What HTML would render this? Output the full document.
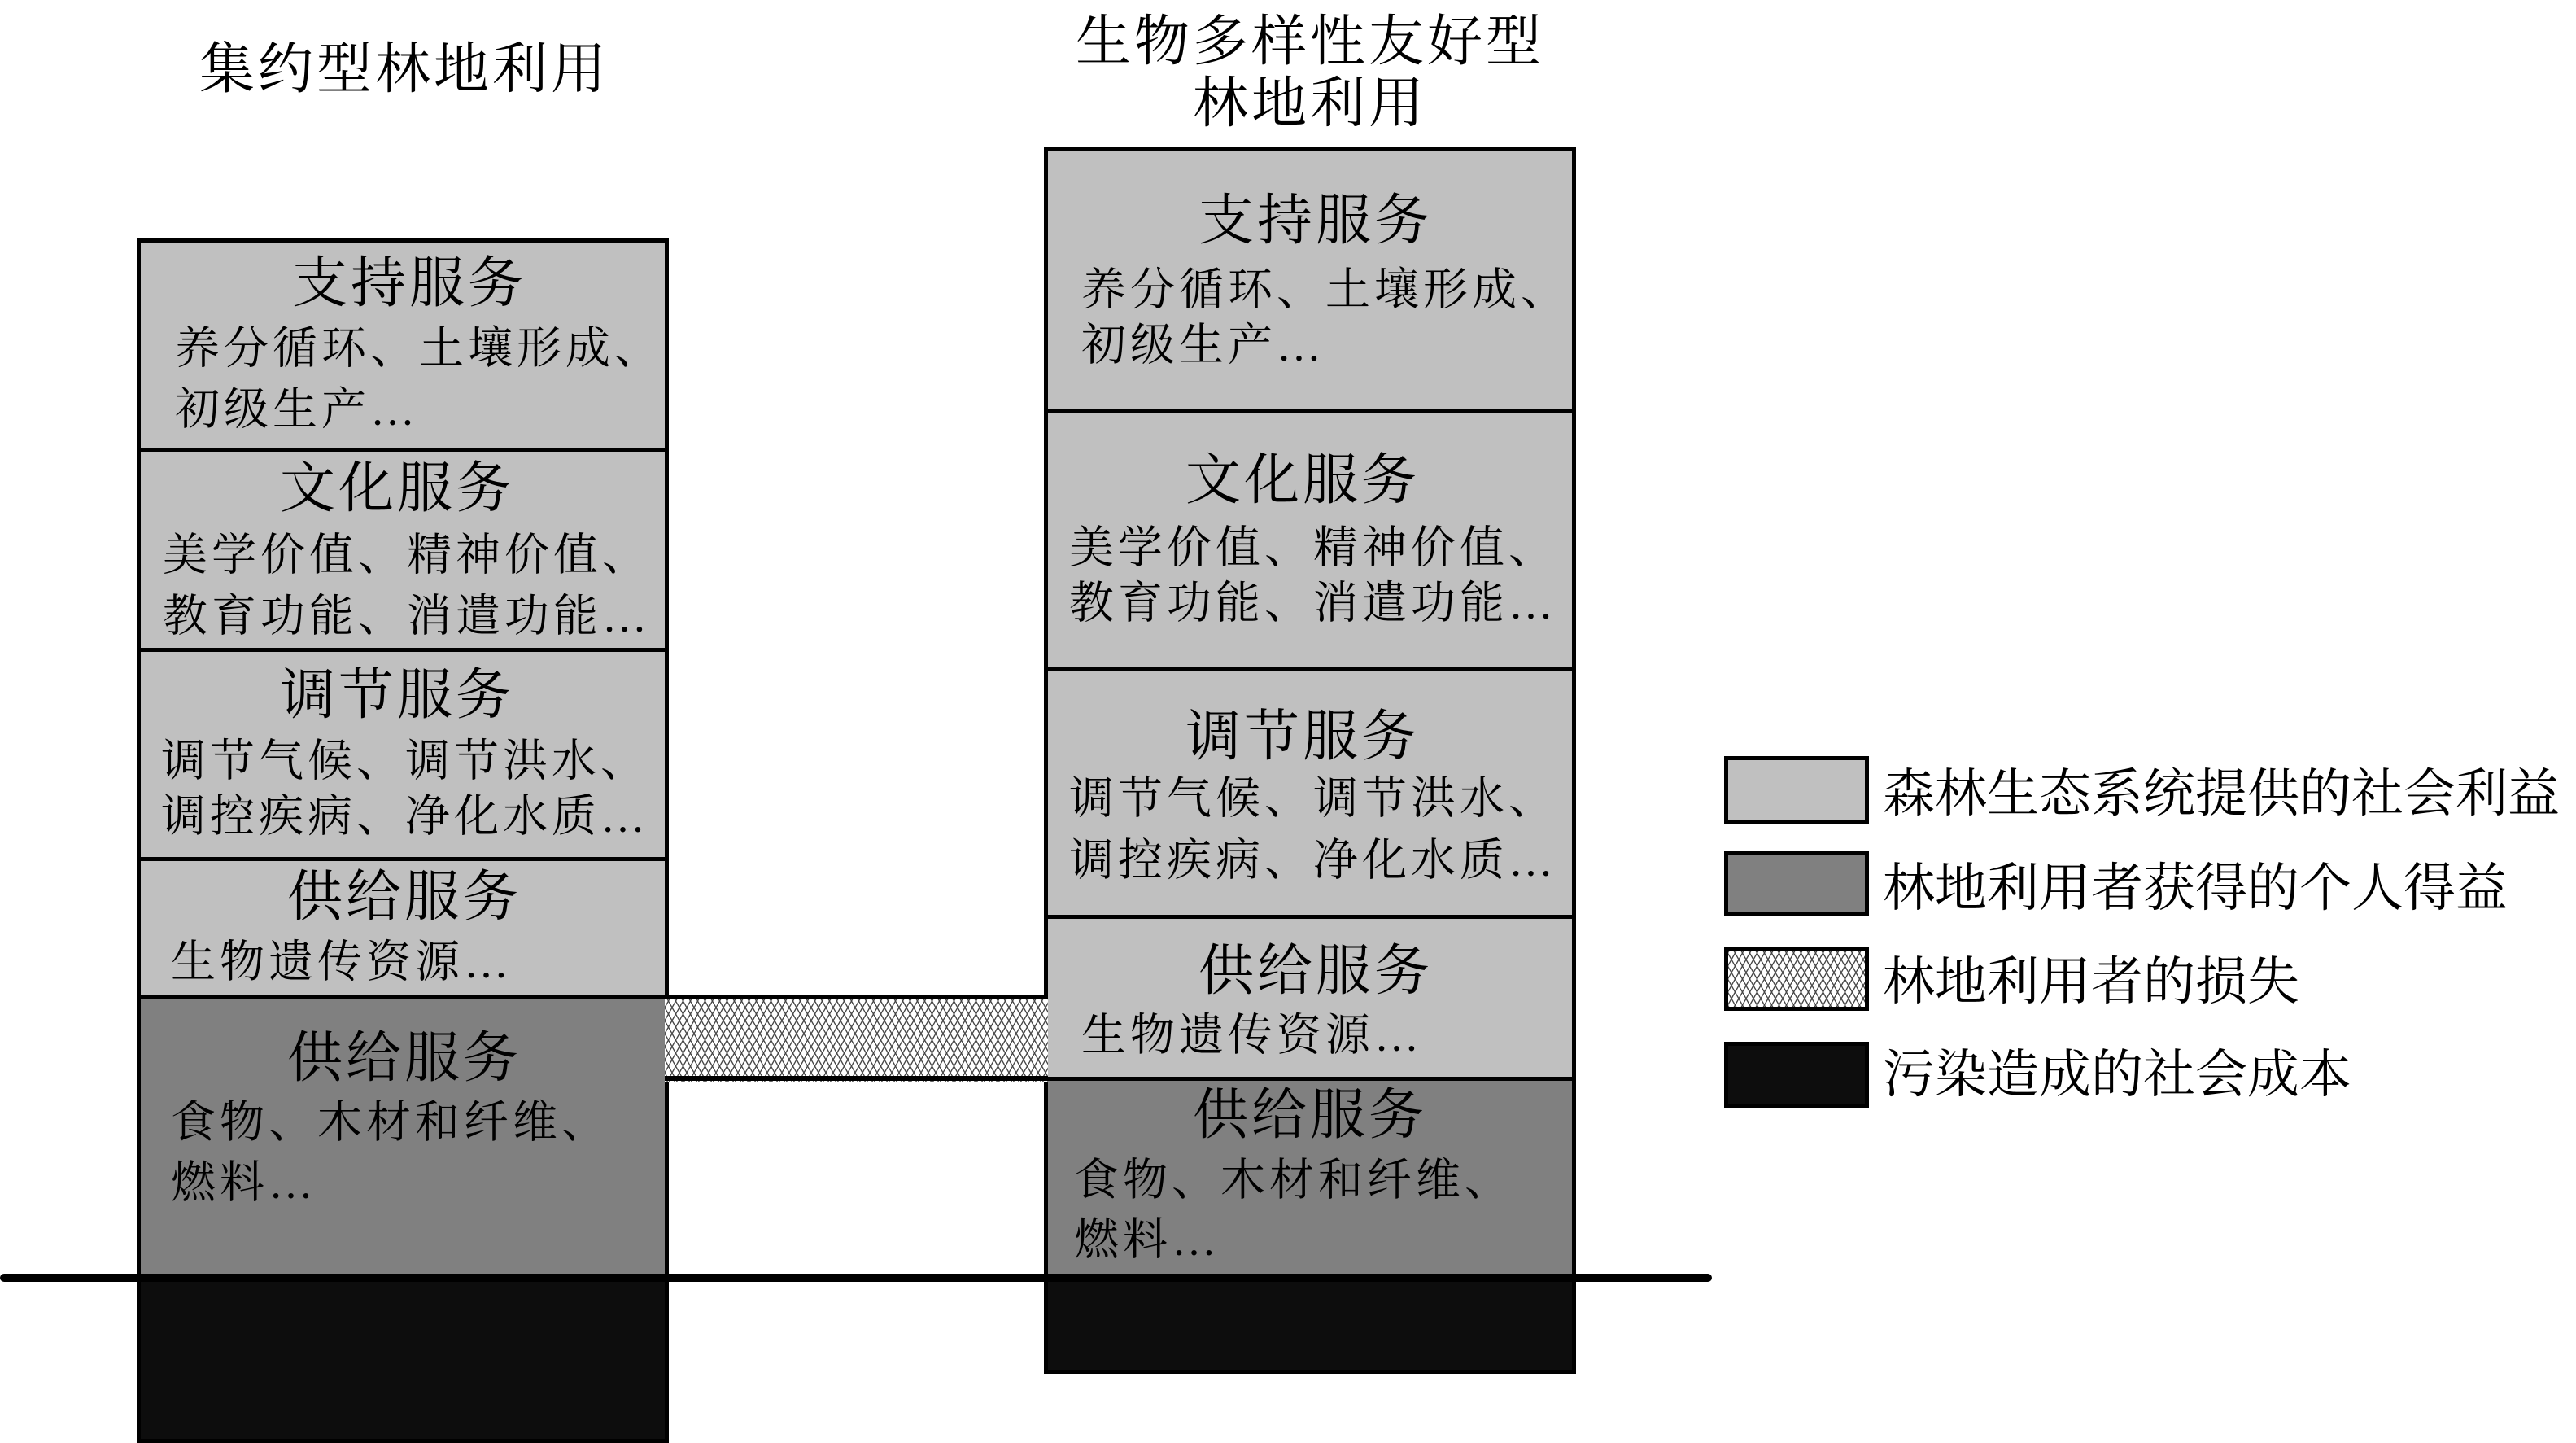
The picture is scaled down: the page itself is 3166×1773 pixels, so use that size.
<!DOCTYPE html>
<html><head><meta charset="utf-8"><style>
body{margin:0;width:3166px;height:1773px;background:#fff;position:relative;overflow:hidden;font-family:"Liberation Serif","Noto Serif CJK SC","Noto Serif CJK JP",serif;color:#000}
.b{position:absolute;box-sizing:border-box;border:5px solid #000}
.l{background:#c0c0c0}.d{background:#808080}.k{background:#0d0d0d}
.t{position:absolute;white-space:nowrap;line-height:1}
.h{font-size:68px;letter-spacing:4px;transform:translate(-50%,-50%)}
.s{font-size:55px;letter-spacing:5px;transform:translateY(-50%)}
.g{font-size:64px;transform:translateY(-50%)}
</style></head><body>
<div class="t h" style="left:497px;top:85px">集约型林地利用</div>
<div class="t h" style="left:1610px;top:51px">生物多样性友好型</div>
<div class="t h" style="left:1610px;top:127px">林地利用</div>

<div class="b l" style="left:168px;top:293px;width:654px;height:263px"></div>
<div class="b l" style="left:168px;top:550px;width:654px;height:252px"></div>
<div class="b l" style="left:168px;top:796px;width:654px;height:263px"></div>
<div class="b l" style="left:168px;top:1053px;width:654px;height:175px"></div>
<div class="b d" style="left:168px;top:1222px;width:654px;height:352px"></div>
<div class="b k" style="left:168px;top:1568px;width:654px;height:205px"></div>

<div class="b l" style="left:1283px;top:181px;width:654px;height:328px"></div>
<div class="b l" style="left:1283px;top:503px;width:654px;height:322px"></div>
<div class="b l" style="left:1283px;top:819px;width:654px;height:311px"></div>
<div class="b l" style="left:1283px;top:1124px;width:654px;height:205px"></div>
<div class="b d" style="left:1283px;top:1323px;width:654px;height:251px"></div>
<div class="b k" style="left:1283px;top:1568px;width:654px;height:120px"></div>

<svg style="position:absolute;left:817px;top:1222px" width="471" height="107">
<defs><pattern id="hp" width="9" height="16" patternUnits="userSpaceOnUse">
<rect width="9" height="16" fill="#fff"/>
<path d="M0 0 L9 16 M9 0 L0 16" stroke="#444" stroke-width="1.3"/>
</pattern></defs>
<rect x="0" y="0" width="471" height="107" fill="url(#hp)"/>
<rect x="0" y="0" width="471" height="6" fill="#000"/>
<rect x="0" y="100" width="471" height="6" fill="#000"/>
</svg>

<div style="position:absolute;left:0;top:1565px;width:2104px;height:10px;background:#000;border-radius:5px"></div>

<div class="t h" style="left:503px;top:348px">支持服务</div>
<div class="t s" style="left:215px;top:428px">养分循环、土壤形成、</div>
<div class="t s" style="left:215px;top:503px">初级生产…</div>
<div class="t h" style="left:488px;top:600px">文化服务</div>
<div class="t s" style="left:200px;top:682px">美学价值、精神价值、</div>
<div class="t s" style="left:200px;top:757px">教育功能、消遣功能…</div>
<div class="t h" style="left:488px;top:854px">调节服务</div>
<div class="t s" style="left:198px;top:935px">调节气候、调节洪水、</div>
<div class="t s" style="left:198px;top:1003px">调控疾病、净化水质…</div>
<div class="t h" style="left:497px;top:1102px">供给服务</div>
<div class="t s" style="left:210px;top:1182px">生物遗传资源…</div>
<div class="t h" style="left:497px;top:1300px">供给服务</div>
<div class="t s" style="left:210px;top:1379px">食物、木材和纤维、</div>
<div class="t s" style="left:210px;top:1453px">燃料…</div>

<div class="t h" style="left:1617px;top:271px">支持服务</div>
<div class="t s" style="left:1329px;top:356px">养分循环、土壤形成、</div>
<div class="t s" style="left:1329px;top:424px">初级生产…</div>
<div class="t h" style="left:1601px;top:590px">文化服务</div>
<div class="t s" style="left:1314px;top:673px">美学价值、精神价值、</div>
<div class="t s" style="left:1314px;top:741px">教育功能、消遣功能…</div>
<div class="t h" style="left:1601px;top:905px">调节服务</div>
<div class="t s" style="left:1314px;top:981px">调节气候、调节洪水、</div>
<div class="t s" style="left:1314px;top:1057px">调控疾病、净化水质…</div>
<div class="t h" style="left:1617px;top:1193px">供给服务</div>
<div class="t s" style="left:1329px;top:1272px">生物遗传资源…</div>
<div class="t h" style="left:1610px;top:1370px">供给服务</div>
<div class="t s" style="left:1320px;top:1450px">食物、木材和纤维、</div>
<div class="t s" style="left:1320px;top:1523px">燃料…</div>

<div class="b l" style="left:2119px;top:929px;width:178px;height:83px"></div>
<div class="b d" style="left:2119px;top:1046px;width:178px;height:79px"></div>
<svg style="position:absolute;left:2119px;top:1163px" width="178" height="79">
<defs><pattern id="hp2" width="9" height="16" patternUnits="userSpaceOnUse">
<rect width="9" height="16" fill="#fff"/>
<path d="M0 0 L9 16 M9 0 L0 16" stroke="#444" stroke-width="1.3"/>
</pattern></defs>
<rect x="0" y="0" width="178" height="79" fill="url(#hp2)" stroke="#000" stroke-width="10"/>
</svg>
<div class="b k" style="left:2119px;top:1280px;width:178px;height:81px"></div>
<div class="t g" style="left:2314px;top:976px">森林生态系统提供的社会利益</div>
<div class="t g" style="left:2314px;top:1092px">林地利用者获得的个人得益</div>
<div class="t g" style="left:2314px;top:1207px">林地利用者的损失</div>
<div class="t g" style="left:2314px;top:1321px">污染造成的社会成本</div>
</body></html>
